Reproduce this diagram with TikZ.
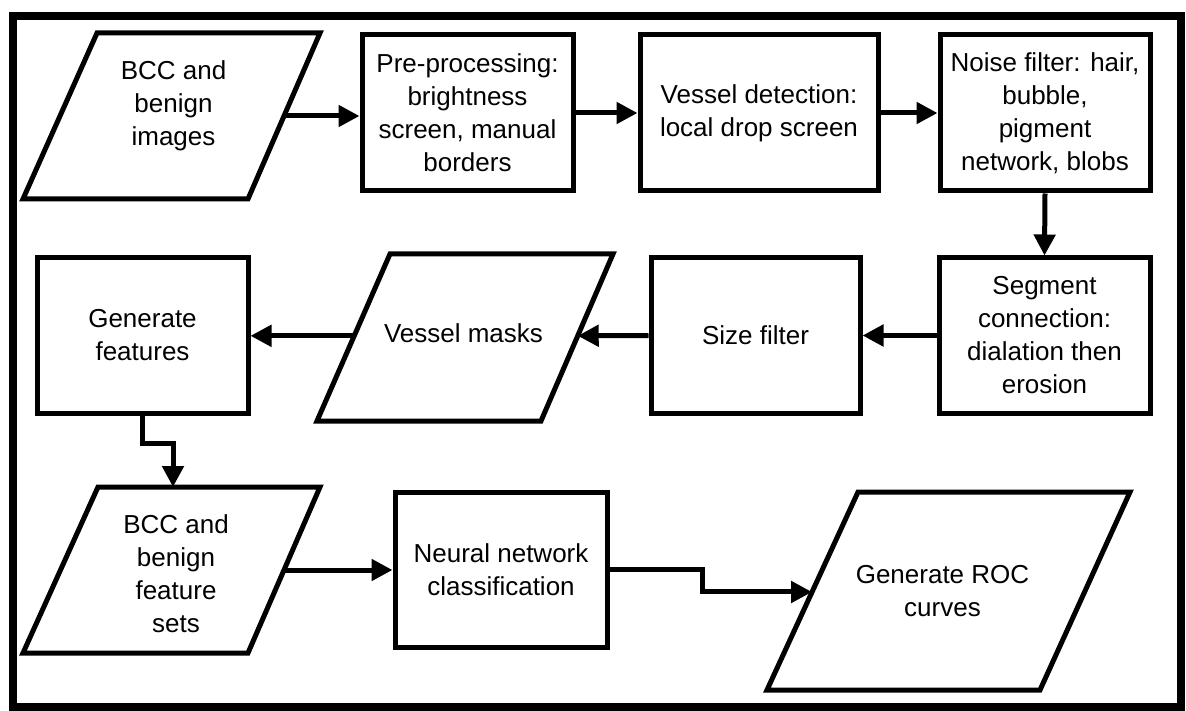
\documentclass[tikz,border=0pt]{standalone}
\usepackage{fontspec}
\setmainfont{Liberation Sans}
\usetikzlibrary{arrows.meta,calc}

\begin{document}
\begin{tikzpicture}[x=1pt,y=-1pt,
  every node/.style={font=\fontsize{26}{33}\selectfont, align=center, inner sep=0pt},
  stepbox/.style={draw, line width=5pt, minimum width=#1, minimum height=155pt},
  iobox/.style={draw, line width=5pt, line join=miter},
  arr/.style={line width=5pt, -{Triangle[length=21pt,width=21pt]}},
  frame/.style={line width=8pt}]

\useasboundingbox (0,0) rectangle (1186,711);
\fill[white] (0,0) rectangle (1186,711);
\draw[frame] (12.5,16) rectangle (1181,707);

% ---- first row ----
\coordinate (a1) at (97,33);  \coordinate (b1) at (320,33);
\coordinate (c1) at (248,199); \coordinate (d1) at (23,199);
\draw[iobox] (a1) -- (b1) -- (c1) -- (d1) -- cycle;
\node (img) at (173.5,106) {BCC and\\benign\\images};

\node[stepbox=211pt, minimum height=156pt] (pre) at (467.5,113)
  {Pre-processing:\\brightness\\screen, manual\\borders};
\node[stepbox=238pt, minimum height=156pt] (det) at (759,113)
  {Vessel detection:\\local drop screen};
\node[stepbox=210pt, minimum height=156pt] (noise) at (1045,113)
  {Noise filter: hair,\\bubble,\\pigment\\network, blobs};

% ---- second row ----
\node[stepbox=211pt] (seg) at (1044.5,335.5)
  {Segment\\connection:\\dialation then\\erosion};
\node[stepbox=209pt] (size) at (755.5,335.5) {Size filter};

\coordinate (a2) at (390,254);  \coordinate (b2) at (613,254);
\coordinate (c2) at (541,421);  \coordinate (d2) at (317,421);
\draw[iobox] (a2) -- (b2) -- (c2) -- (d2) -- cycle;
\node (vm) at (463.5,333.5) {Vessel masks};

\node[stepbox=211pt] (gen) at (142.5,335.5) {Generate\\features};

% ---- third row ----
\coordinate (a3) at (98,487);   \coordinate (b3) at (320,487);
\coordinate (c3) at (248,653);  \coordinate (d3) at (23,653);
\draw[iobox] (a3) -- (b3) -- (c3) -- (d3) -- cycle;
\node (fs) at (176,574) {BCC and\\benign\\feature\\sets};

\node[stepbox=212pt] (nn) at (501,569.5) {Neural network\\classification};

\coordinate (a4) at (858,492);  \coordinate (b4) at (1130,492);
\coordinate (c4) at (1040,690); \coordinate (d4) at (767,690);
\draw[iobox] (a4) -- (b4) -- (c4) -- (d4) -- cycle;
\node (roc) at (942.5,591.5) {Generate ROC\\curves};

% ---- connection points on the slanted sides ----
\coordinate (img-e) at ($(b1)!0.5!(c1)$);
\coordinate (vm-e)  at ($(b2)!0.49!(c2)$);
\coordinate (vm-w)  at ($(a2)!0.49!(d2)$);
\coordinate (fs-n)  at (173,487);
\coordinate (fs-e)  at ($(b3)!0.5!(c3)$);
\coordinate (roc-w) at ($(a4)!0.505!(d4)$);

% ---- flow ----
\draw[arr] (img-e) -- (img-e -| pre.west);
\draw[arr] (pre.east) -- (det.west);
\draw[arr] (det.east) -- (noise.west);
\draw[arr] (noise.south) -- (seg.north);
\draw[arr] (seg.west) -- (size.east);
\draw[arr] (size.west) -- (vm-e);
\draw[arr] (vm-w) -- (vm-w -| gen.east);
\draw[arr] (gen.south) -- ++(0,28) -| (fs-n);
\draw[arr] (fs-e) -- (fs-e -| nn.west);
\draw[arr] (nn.east) -- ++(93,0) |- (roc-w);

\end{tikzpicture}
\end{document}
